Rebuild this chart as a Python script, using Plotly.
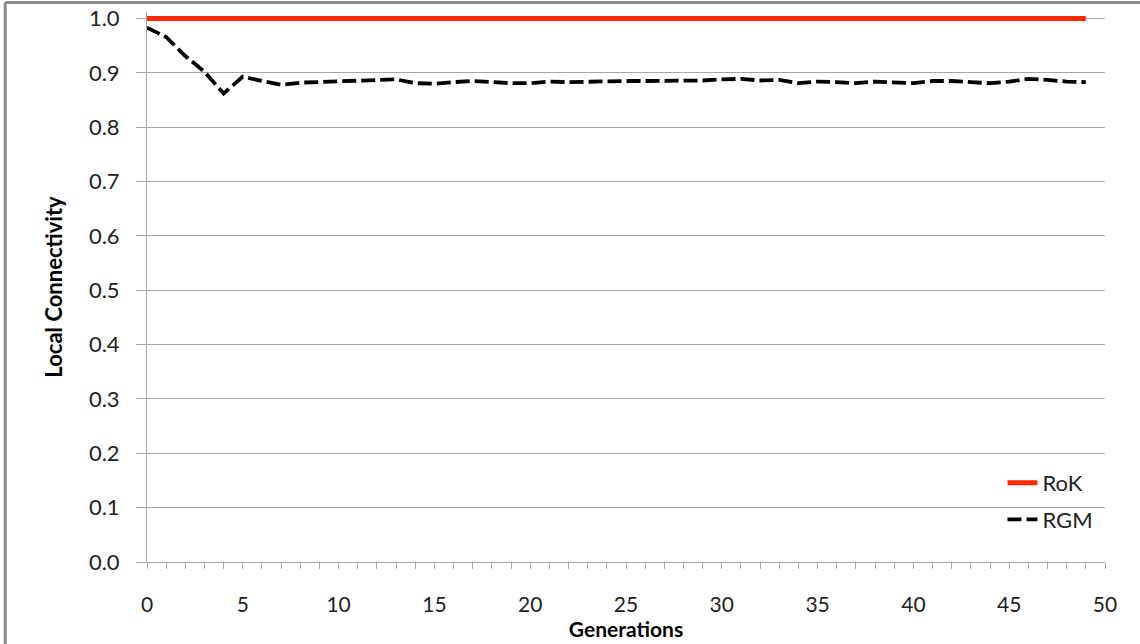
import plotly.graph_objects as go

generations = list(range(50))
rok = [1.0] * 50
rgm = [0.983, 0.966, 0.931, 0.902, 0.862, 0.893, 0.885, 0.878, 0.882, 0.883,
       0.884, 0.885, 0.887, 0.888, 0.881, 0.880, 0.883, 0.885, 0.883, 0.881,
       0.881, 0.884, 0.883, 0.884, 0.884, 0.885, 0.885, 0.885, 0.886, 0.886,
       0.888, 0.889, 0.886, 0.887, 0.881, 0.884, 0.883, 0.881, 0.884, 0.882,
       0.881, 0.885, 0.885, 0.883, 0.881, 0.884, 0.889, 0.887, 0.884, 0.883]

x_ticks = list(range(0, 51))
x_ticktext = [str(v) if v % 5 == 0 else "" for v in x_ticks]
y_ticks = [round(i * 0.1, 1) for i in range(11)]
y_ticktext = [f"{v:.1f}" for v in y_ticks]

FONT = "Lato"
GRID = "#a6a6a6"
FS = 22
Y_TOP = 1.012  # small headroom so the thick 1.0 line is not clipped

fig = go.Figure()
fig.add_trace(go.Scatter(x=generations, y=rok, mode="lines", name="RoK", legendgroup="a",
                         line=dict(color="#ff2a00", width=5)))
fig.add_trace(go.Scatter(x=generations, y=rgm, mode="lines", name="RGM", legendgroup="b",
                         line=dict(color="#000000", width=3.8, dash="14px,5px")))

plot_h = 543 * Y_TOP
top_margin = 562 - plot_h

fig.update_layout(
    width=1140, height=644,
    margin=dict(l=147, r=35, t=top_margin, b=82, autoexpand=False),
    paper_bgcolor="white", plot_bgcolor="white",
    font=dict(family=FONT, size=FS, color="#222222"),
    showlegend=True,
    legend=dict(x=0.893, y=0.182, xanchor="left", yanchor="top",
                bgcolor="rgba(0,0,0,0)", font=dict(size=FS, family=FONT, color="#222"),
                tracegroupgap=5, itemwidth=30),
    xaxis=dict(range=[0, 50], tickmode="array", tickvals=x_ticks, ticktext=x_ticktext,
               ticks="outside", ticklen=6, tickcolor=GRID, tickwidth=1,
               showline=True, linecolor=GRID, linewidth=1, showgrid=False,
               zeroline=False, automargin=False, ticklabelstandoff=18,
               title=dict(text="<b>Generations</b>", standoff=0,
                          font=dict(size=21, family=FONT, color="#000")),
               tickfont=dict(size=21, family=FONT)),
    yaxis=dict(range=[0, Y_TOP], tickmode="array", tickvals=y_ticks, ticktext=y_ticktext,
               ticks="outside", ticklen=10, tickcolor=GRID, tickwidth=1,
               showline=True, linecolor=GRID, linewidth=1, showgrid=True,
               gridcolor=GRID, gridwidth=1, zeroline=False, automargin=False,
               ticklabelstandoff=12,
               title=dict(text="<b>Local Connectivity</b>", standoff=20,
                          font=dict(size=FS, family=FONT, color="#000")),
               tickfont=dict(size=FS, family=FONT)),
)

# outer frame of the original picture (top and left edges visible)
fig.add_shape(type="line", xref="paper", yref="paper",
              x0=-0.148, x1=1.05, y0=(562 - 3) / plot_h, y1=(562 - 3) / plot_h,
              line=dict(color="#8c8c8c", width=3))
fig.add_shape(type="line", xref="paper", yref="paper",
              x0=-0.148, x1=-0.148, y0=(562 - 3) / plot_h, y1=-0.2,
              line=dict(color="#8c8c8c", width=3))

fig.write_html("out.html", config={"displayModeBar": False},
               post_script="document.body.style.margin='0';")
